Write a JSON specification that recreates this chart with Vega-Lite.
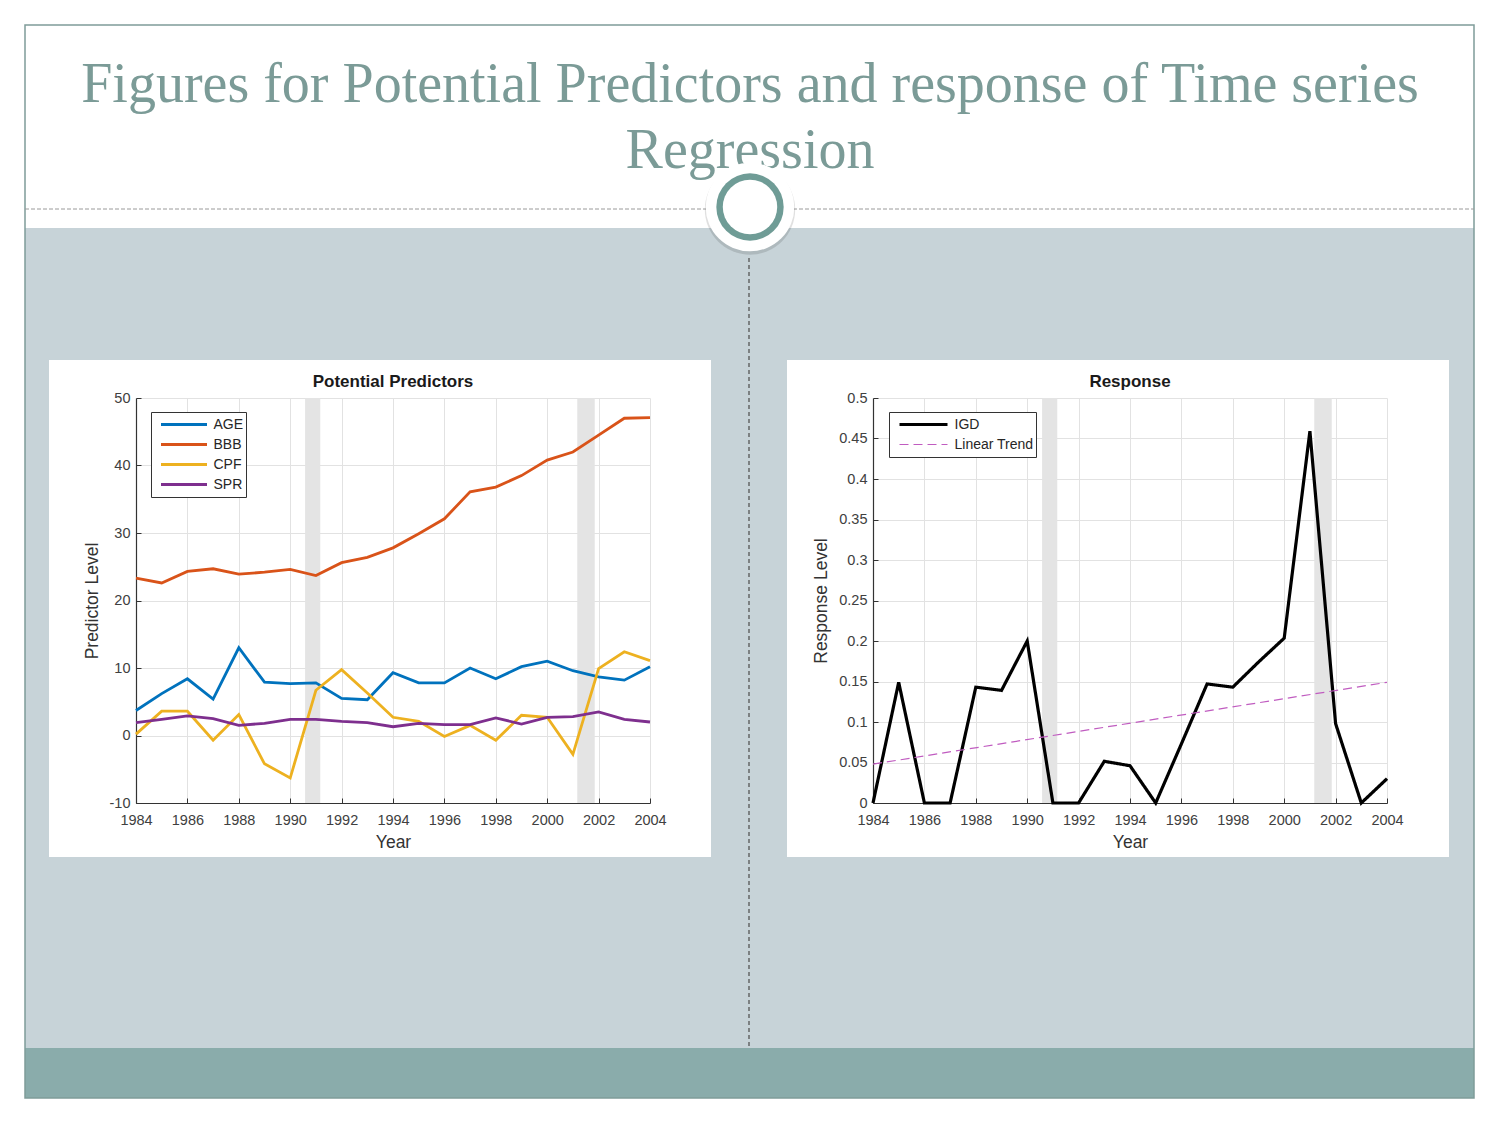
{
  "$schema": "https://vega.github.io/schema/vega-lite/v6.json",
  "padding": 0,
  "background": "white",
  "bounds": "flush",
  "spacing": 1,
  "resolve": {
    "scale": {"color": "independent", "strokeDash": "independent", "strokeWidth": "independent", "x": "independent", "y": "independent"},
    "legend": {"color": "independent", "strokeDash": "independent", "strokeWidth": "independent"}
  },
  "vconcat": [
    {
      "width": 1,
      "height": 1,
      "data": {"values": [{}]},
      "layer": [
        {
          "mark": {"type": "rect", "color": "white"},
          "encoding": {
            "x": {"datum": 0, "type": "quantitative", "scale": {"domain": [0, 1500], "range": [-136, 1364], "nice": false, "zero": false}, "axis": null},
            "x2": {"datum": 1500},
            "y": {"datum": 0, "type": "quantitative", "scale": {"domain": [0, 1125], "range": [-396, 729], "nice": false, "zero": false}, "axis": null},
            "y2": {"datum": 1125}
          }
        },
        {
          "mark": {"type": "rect", "color": "#c7d3d8"},
          "encoding": {
            "x": {"datum": 25, "type": "quantitative", "scale": {"domain": [0, 1500], "range": [-136, 1364], "nice": false, "zero": false}, "axis": null},
            "x2": {"datum": 1474},
            "y": {"datum": 228, "type": "quantitative", "scale": {"domain": [0, 1125], "range": [-396, 729], "nice": false, "zero": false}, "axis": null},
            "y2": {"datum": 1048}
          }
        },
        {
          "mark": {"type": "rect", "color": "#8aacab"},
          "encoding": {
            "x": {"datum": 25, "type": "quantitative", "scale": {"domain": [0, 1500], "range": [-136, 1364], "nice": false, "zero": false}, "axis": null},
            "x2": {"datum": 1474},
            "y": {"datum": 1048, "type": "quantitative", "scale": {"domain": [0, 1125], "range": [-396, 729], "nice": false, "zero": false}, "axis": null},
            "y2": {"datum": 1098}
          }
        },
        {
          "mark": {"type": "rect", "fill": "white", "fillOpacity": 0, "stroke": "#7f9c99", "strokeWidth": 1.5},
          "encoding": {
            "x": {"datum": 25, "type": "quantitative", "scale": {"domain": [0, 1500], "range": [-136, 1364], "nice": false, "zero": false}, "axis": null},
            "x2": {"datum": 1474},
            "y": {"datum": 25, "type": "quantitative", "scale": {"domain": [0, 1125], "range": [-396, 729], "nice": false, "zero": false}, "axis": null},
            "y2": {"datum": 1098}
          }
        },
        {
          "mark": {"type": "rule", "color": "#9a9a9a", "strokeWidth": 1, "strokeDash": [4, 2]},
          "encoding": {
            "x": {"datum": 25, "type": "quantitative", "scale": {"domain": [0, 1500], "range": [-136, 1364], "nice": false, "zero": false}, "axis": null},
            "x2": {"datum": 1474},
            "y": {"datum": 209, "type": "quantitative", "scale": {"domain": [0, 1125], "range": [-396, 729], "nice": false, "zero": false}, "axis": null}
          }
        },
        {
          "mark": {"type": "rule", "color": "#555555", "strokeWidth": 1.3, "strokeDash": [4, 3]},
          "encoding": {
            "x": {"datum": 749, "type": "quantitative", "scale": {"domain": [0, 1500], "range": [-136, 1364], "nice": false, "zero": false}, "axis": null},
            "y": {"datum": 258, "type": "quantitative", "scale": {"domain": [0, 1125], "range": [-396, 729], "nice": false, "zero": false}, "axis": null},
            "y2": {"datum": 1048}
          }
        },
        {
          "mark": {"type": "text", "font": "Liberation Serif", "fontSize": 56, "color": "#7b9b97", "align": "center", "baseline": "alphabetic", "lineHeight": 66.6},
          "encoding": {
            "x": {"datum": 750, "type": "quantitative", "scale": {"domain": [0, 1500], "range": [-136, 1364], "nice": false, "zero": false}, "axis": null},
            "y": {"datum": 101.7, "type": "quantitative", "scale": {"domain": [0, 1125], "range": [-396, 729], "nice": false, "zero": false}, "axis": null},
            "text": {"value": ["Figures for Potential Predictors and response of Time series", "Regression"]}
          }
        },
        {
          "mark": {"type": "point", "shape": "circle", "filled": true, "size": 8171, "color": "#000000", "opacity": 0.12},
          "encoding": {
            "x": {"datum": 750, "type": "quantitative", "scale": {"domain": [0, 1500], "range": [-136, 1364], "nice": false, "zero": false}, "axis": null},
            "y": {"datum": 209.5, "type": "quantitative", "scale": {"domain": [0, 1125], "range": [-396, 729], "nice": false, "zero": false}, "axis": null}
          }
        },
        {
          "mark": {"type": "point", "shape": "circle", "filled": true, "size": 7854, "color": "white", "opacity": 1},
          "encoding": {
            "x": {"datum": 750, "type": "quantitative", "scale": {"domain": [0, 1500], "range": [-136, 1364], "nice": false, "zero": false}, "axis": null},
            "y": {"datum": 207, "type": "quantitative", "scale": {"domain": [0, 1125], "range": [-396, 729], "nice": false, "zero": false}, "axis": null}
          }
        },
        {
          "mark": {"type": "point", "shape": "circle", "filled": true, "size": 4536, "color": "#6f9c96", "opacity": 1},
          "encoding": {
            "x": {"datum": 750, "type": "quantitative", "scale": {"domain": [0, 1500], "range": [-136, 1364], "nice": false, "zero": false}, "axis": null},
            "y": {"datum": 207, "type": "quantitative", "scale": {"domain": [0, 1125], "range": [-396, 729], "nice": false, "zero": false}, "axis": null}
          }
        },
        {
          "mark": {"type": "point", "shape": "circle", "filled": true, "size": 2961, "color": "white", "opacity": 1},
          "encoding": {
            "x": {"datum": 750, "type": "quantitative", "scale": {"domain": [0, 1500], "range": [-136, 1364], "nice": false, "zero": false}, "axis": null},
            "y": {"datum": 207, "type": "quantitative", "scale": {"domain": [0, 1125], "range": [-396, 729], "nice": false, "zero": false}, "axis": null}
          }
        },
        {
          "mark": {"type": "rect", "color": "white"},
          "encoding": {
            "x": {"datum": 49, "type": "quantitative", "scale": {"domain": [0, 1500], "range": [-136, 1364], "nice": false, "zero": false}, "axis": null},
            "x2": {"datum": 711},
            "y": {"datum": 360, "type": "quantitative", "scale": {"domain": [0, 1125], "range": [-396, 729], "nice": false, "zero": false}, "axis": null},
            "y2": {"datum": 857}
          }
        },
        {
          "mark": {"type": "rect", "color": "white"},
          "encoding": {
            "x": {"datum": 787, "type": "quantitative", "scale": {"domain": [0, 1500], "range": [-136, 1364], "nice": false, "zero": false}, "axis": null},
            "x2": {"datum": 1449},
            "y": {"datum": 360, "type": "quantitative", "scale": {"domain": [0, 1125], "range": [-396, 729], "nice": false, "zero": false}, "axis": null},
            "y2": {"datum": 857}
          }
        }
      ]
    },
    {
      "bounds": "flush",
      "spacing": 223,
      "resolve": {
        "scale": {"color": "independent", "strokeDash": "independent", "strokeWidth": "independent", "x": "independent", "y": "independent"},
        "legend": {"color": "independent", "strokeDash": "independent", "strokeWidth": "independent"}
      },
      "hconcat": [
        {
          "width": 514,
          "height": 405,
          "title": {"text": "Potential Predictors"},
          "layer": [
            {
              "data": {"values": [{"start": 1990.58, "end": 1991.17}, {"start": 2001.17, "end": 2001.85}]},
              "mark": {"type": "rect", "color": "#e4e4e4"},
              "encoding": {
                "x": {"field": "start", "type": "quantitative", "scale": {"domain": [1984, 2004], "nice": false, "zero": false},
                      "axis": {"values": [1984, 1986, 1988, 1990, 1992, 1994, 1996, 1998, 2000, 2002, 2004], "format": "d", "title": "Year", "labelFlush": false, "labelOverlap": false, "labelPadding": 15, "titlePadding": 7}},
                "x2": {"field": "end"}
              }
            },
            {
              "data": {"values": [
                {"year": 1984, "series": "AGE", "value": 3.7}, {"year": 1985, "series": "AGE", "value": 6.2}, {"year": 1986, "series": "AGE", "value": 8.4}, {"year": 1987, "series": "AGE", "value": 5.4}, {"year": 1988, "series": "AGE", "value": 13.0}, {"year": 1989, "series": "AGE", "value": 7.9}, {"year": 1990, "series": "AGE", "value": 7.7}, {"year": 1991, "series": "AGE", "value": 7.8}, {"year": 1992, "series": "AGE", "value": 5.5}, {"year": 1993, "series": "AGE", "value": 5.3}, {"year": 1994, "series": "AGE", "value": 9.3}, {"year": 1995, "series": "AGE", "value": 7.8}, {"year": 1996, "series": "AGE", "value": 7.8}, {"year": 1997, "series": "AGE", "value": 10.0}, {"year": 1998, "series": "AGE", "value": 8.4}, {"year": 1999, "series": "AGE", "value": 10.2}, {"year": 2000, "series": "AGE", "value": 11.0}, {"year": 2001, "series": "AGE", "value": 9.6}, {"year": 2002, "series": "AGE", "value": 8.7}, {"year": 2003, "series": "AGE", "value": 8.2}, {"year": 2004, "series": "AGE", "value": 10.2},
                {"year": 1984, "series": "BBB", "value": 23.3}, {"year": 1985, "series": "BBB", "value": 22.6}, {"year": 1986, "series": "BBB", "value": 24.3}, {"year": 1987, "series": "BBB", "value": 24.7}, {"year": 1988, "series": "BBB", "value": 23.9}, {"year": 1989, "series": "BBB", "value": 24.2}, {"year": 1990, "series": "BBB", "value": 24.6}, {"year": 1991, "series": "BBB", "value": 23.7}, {"year": 1992, "series": "BBB", "value": 25.6}, {"year": 1993, "series": "BBB", "value": 26.4}, {"year": 1994, "series": "BBB", "value": 27.8}, {"year": 1995, "series": "BBB", "value": 29.9}, {"year": 1996, "series": "BBB", "value": 32.1}, {"year": 1997, "series": "BBB", "value": 36.1}, {"year": 1998, "series": "BBB", "value": 36.8}, {"year": 1999, "series": "BBB", "value": 38.5}, {"year": 2000, "series": "BBB", "value": 40.8}, {"year": 2001, "series": "BBB", "value": 42.0}, {"year": 2002, "series": "BBB", "value": 44.5}, {"year": 2003, "series": "BBB", "value": 47.0}, {"year": 2004, "series": "BBB", "value": 47.1},
                {"year": 1984, "series": "CPF", "value": 0.2}, {"year": 1985, "series": "CPF", "value": 3.6}, {"year": 1986, "series": "CPF", "value": 3.6}, {"year": 1987, "series": "CPF", "value": -0.7}, {"year": 1988, "series": "CPF", "value": 3.1}, {"year": 1989, "series": "CPF", "value": -4.2}, {"year": 1990, "series": "CPF", "value": -6.3}, {"year": 1991, "series": "CPF", "value": 6.7}, {"year": 1992, "series": "CPF", "value": 9.75}, {"year": 1993, "series": "CPF", "value": 6.3}, {"year": 1994, "series": "CPF", "value": 2.7}, {"year": 1995, "series": "CPF", "value": 2.1}, {"year": 1996, "series": "CPF", "value": -0.15}, {"year": 1997, "series": "CPF", "value": 1.5}, {"year": 1998, "series": "CPF", "value": -0.7}, {"year": 1999, "series": "CPF", "value": 3.0}, {"year": 2000, "series": "CPF", "value": 2.7}, {"year": 2001, "series": "CPF", "value": -2.8}, {"year": 2002, "series": "CPF", "value": 9.9}, {"year": 2003, "series": "CPF", "value": 12.4}, {"year": 2004, "series": "CPF", "value": 11.1},
                {"year": 1984, "series": "SPR", "value": 1.9}, {"year": 1985, "series": "SPR", "value": 2.4}, {"year": 1986, "series": "SPR", "value": 2.9}, {"year": 1987, "series": "SPR", "value": 2.5}, {"year": 1988, "series": "SPR", "value": 1.5}, {"year": 1989, "series": "SPR", "value": 1.8}, {"year": 1990, "series": "SPR", "value": 2.4}, {"year": 1991, "series": "SPR", "value": 2.4}, {"year": 1992, "series": "SPR", "value": 2.1}, {"year": 1993, "series": "SPR", "value": 1.9}, {"year": 1994, "series": "SPR", "value": 1.3}, {"year": 1995, "series": "SPR", "value": 1.8}, {"year": 1996, "series": "SPR", "value": 1.6}, {"year": 1997, "series": "SPR", "value": 1.6}, {"year": 1998, "series": "SPR", "value": 2.6}, {"year": 1999, "series": "SPR", "value": 1.7}, {"year": 2000, "series": "SPR", "value": 2.7}, {"year": 2001, "series": "SPR", "value": 2.8}, {"year": 2002, "series": "SPR", "value": 3.5}, {"year": 2003, "series": "SPR", "value": 2.4}, {"year": 2004, "series": "SPR", "value": 2.0}
              ]},
              "mark": {"type": "line", "strokeWidth": 2.8},
              "encoding": {
                "x": {"field": "year", "type": "quantitative", "scale": {"domain": [1984, 2004], "nice": false, "zero": false},
                      "axis": {"values": [1984, 1986, 1988, 1990, 1992, 1994, 1996, 1998, 2000, 2002, 2004], "format": "d", "title": "Year", "labelFlush": false, "labelOverlap": false, "labelPadding": 15, "titlePadding": 7}},
                "y": {"field": "value", "type": "quantitative", "scale": {"domain": [-10, 50], "nice": false, "zero": false},
                      "axis": {"values": [-10, 0, 10, 20, 30, 40, 50], "labelExpr": "'' + datum.value", "title": "Predictor Level", "labelFlush": false, "labelOverlap": false, "labelPadding": 11, "titlePadding": 8}},
                "color": {"field": "series", "type": "nominal",
                          "scale": {"domain": ["AGE", "BBB", "CPF", "SPR"], "range": ["#0072BD", "#D95319", "#EDB120", "#7E2F8E"]},
                          "legend": {"title": null, "orient": "none", "legendX": 15, "legendY": 14, "symbolType": "stroke", "symbolSize": 2116, "symbolStrokeWidth": 2.8, "clipHeight": 20, "rowPadding": 0, "padding": 2.5, "symbolOffset": 6, "labelOffset": 5, "strokeColor": "#333333", "fillColor": "white"}}
              }
            }
          ]
        },
        {
          "width": 514,
          "height": 405,
          "title": {"text": "Response"},
          "layer": [
            {
              "data": {"values": [{"start": 1990.58, "end": 1991.17}, {"start": 2001.17, "end": 2001.85}]},
              "mark": {"type": "rect", "color": "#e4e4e4"},
              "encoding": {
                "x": {"field": "start", "type": "quantitative", "scale": {"domain": [1984, 2004], "nice": false, "zero": false},
                      "axis": {"values": [1984, 1986, 1988, 1990, 1992, 1994, 1996, 1998, 2000, 2002, 2004], "format": "d", "title": "Year", "labelFlush": false, "labelOverlap": false, "labelPadding": 15, "titlePadding": 7}},
                "x2": {"field": "end"}
              }
            },
            {
              "data": {"values": [
                {"year": 1984, "series": "IGD", "value": 0}, {"year": 1985, "series": "IGD", "value": 0.149}, {"year": 1986, "series": "IGD", "value": 0}, {"year": 1987, "series": "IGD", "value": 0}, {"year": 1988, "series": "IGD", "value": 0.143}, {"year": 1989, "series": "IGD", "value": 0.139}, {"year": 1990, "series": "IGD", "value": 0.2}, {"year": 1991, "series": "IGD", "value": 0}, {"year": 1992, "series": "IGD", "value": 0}, {"year": 1993, "series": "IGD", "value": 0.0515}, {"year": 1994, "series": "IGD", "value": 0.046}, {"year": 1995, "series": "IGD", "value": 0}, {"year": 1996, "series": "IGD", "value": 0.073}, {"year": 1997, "series": "IGD", "value": 0.147}, {"year": 1998, "series": "IGD", "value": 0.143}, {"year": 1999, "series": "IGD", "value": 0.174}, {"year": 2000, "series": "IGD", "value": 0.2035}, {"year": 2001, "series": "IGD", "value": 0.459}, {"year": 2002, "series": "IGD", "value": 0.098}, {"year": 2003, "series": "IGD", "value": 0}, {"year": 2004, "series": "IGD", "value": 0.03},
                {"year": 1984, "series": "Linear Trend", "value": 0.048}, {"year": 2004, "series": "Linear Trend", "value": 0.149}
              ]},
              "mark": {"type": "line"},
              "encoding": {
                "x": {"field": "year", "type": "quantitative", "scale": {"domain": [1984, 2004], "nice": false, "zero": false},
                      "axis": {"values": [1984, 1986, 1988, 1990, 1992, 1994, 1996, 1998, 2000, 2002, 2004], "format": "d", "title": "Year", "labelFlush": false, "labelOverlap": false, "labelPadding": 15, "titlePadding": 7}},
                "y": {"field": "value", "type": "quantitative", "scale": {"domain": [0, 0.5], "nice": false, "zero": false},
                      "axis": {"values": [0, 0.05, 0.1, 0.15, 0.2, 0.25, 0.3, 0.35, 0.4, 0.45, 0.5], "format": "~g", "title": "Response Level", "labelFlush": false, "labelOverlap": false, "labelPadding": 11, "titlePadding": 8}},
                "color": {"field": "series", "type": "nominal",
                          "scale": {"domain": ["IGD", "Linear Trend"], "range": ["#000000", "#c05cc0"]},
                          "legend": {"title": null, "orient": "none", "legendX": 16, "legendY": 14, "symbolType": "stroke", "symbolSize": 2304, "clipHeight": 20, "rowPadding": 0, "padding": 2.5, "symbolOffset": 6, "labelOffset": 5, "strokeColor": "#333333", "fillColor": "white"}},
                "strokeDash": {"field": "series", "type": "nominal", "scale": {"domain": ["IGD", "Linear Trend"], "range": [[1, 0], [9, 5]]}},
                "strokeWidth": {"field": "series", "type": "nominal", "scale": {"domain": ["IGD", "Linear Trend"], "range": [3.2, 1.2]}}
              }
            }
          ]
        }
      ]
    }
  ],
  "config": {
    "view": {"stroke": null},
    "axis": {
      "labelFont": "Liberation Sans", "labelFontSize": 14.5, "labelColor": "#404040",
      "titleFont": "Liberation Sans", "titleFontSize": 17.5, "titleFontWeight": "normal", "titleColor": "#333333",
      "domainColor": "#333333", "domainWidth": 1.2, "tickColor": "#333333", "tickSize": -5,
      "gridColor": "#e2e2e2", "gridWidth": 1, "grid": true
    },
    "legend": {"labelFont": "Liberation Sans", "labelFontSize": 14, "labelColor": "#262626"},
    "title": {"font": "Liberation Sans", "fontSize": 17, "fontWeight": "bold", "color": "#1a1a1a", "frame": "group", "anchor": "middle", "offset": -1}
  }
}
